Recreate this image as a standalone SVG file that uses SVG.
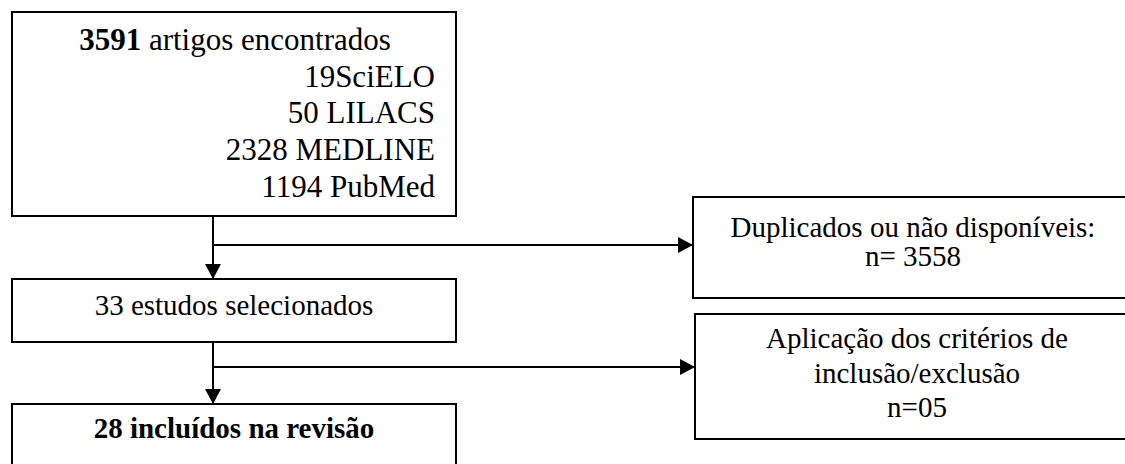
<svg xmlns="http://www.w3.org/2000/svg" width="1125" height="464" viewBox="0 0 1125 464">
<defs>
<marker id="arr" markerWidth="15" markerHeight="16" refX="15" refY="8" orient="auto" markerUnits="userSpaceOnUse">
<path d="M0,0 L15,8 L0,16 Z" fill="#000"/>
</marker>
<style>
.box{fill:#fff;stroke:#000;stroke-width:2}
.t{font-family:"Liberation Serif","Times New Roman",serif;font-size:29px;fill:#000}
.big{font-size:31px}
.c{text-anchor:middle}
.r{text-anchor:end}
.b{font-weight:bold}
.ln{fill:none;stroke:#000;stroke-width:2}
</style>
</defs>
<rect width="1125" height="464" fill="#fff"/>
<g id="n1">
<rect class="box" x="12" y="12" width="444" height="204"/>
<text class="t big c" x="235" y="50"><tspan class="b">3591</tspan> artigos encontrados</text>
<text class="t big r" x="435" y="87">19SciELO</text>
<text class="t big r" x="435" y="123">50 LILACS</text>
<text class="t big r" x="435" y="160">2328 MEDLINE</text>
<text class="t big r" x="435" y="197">1194 PubMed</text>
</g>
<g id="n2">
<rect class="box" x="12" y="279" width="444" height="63"/>
<text class="t c" x="234" y="315">33 estudos selecionados</text>
</g>
<g id="n3">
<rect class="box" x="12" y="404" width="444" height="80"/>
<text class="t c b" x="234" y="438">28 incluídos na revisão</text>
</g>
<g id="n4">
<rect class="box" x="693" y="197" width="460" height="101"/>
<text class="t c" x="913" y="237">Duplicados ou não disponíveis:</text>
<text class="t c" x="913" y="266">n= 3558</text>
</g>
<g id="n5">
<rect class="box" x="695" y="314" width="460" height="125"/>
<text class="t c" x="917" y="348">Aplicação dos critérios de</text>
<text class="t c" x="917" y="383">inclusão/exclusão</text>
<text class="t c" x="917" y="417">n=05</text>
</g>
<g id="connectors">
<line class="ln" x1="213" y1="216" x2="213" y2="279" marker-end="url(#arr)"/>
<line class="ln" x1="213" y1="245" x2="693" y2="245" marker-end="url(#arr)"/>
<line class="ln" x1="213" y1="342" x2="213" y2="404" marker-end="url(#arr)"/>
<line class="ln" x1="213" y1="367" x2="695" y2="367" marker-end="url(#arr)"/>
</g>
</svg>
